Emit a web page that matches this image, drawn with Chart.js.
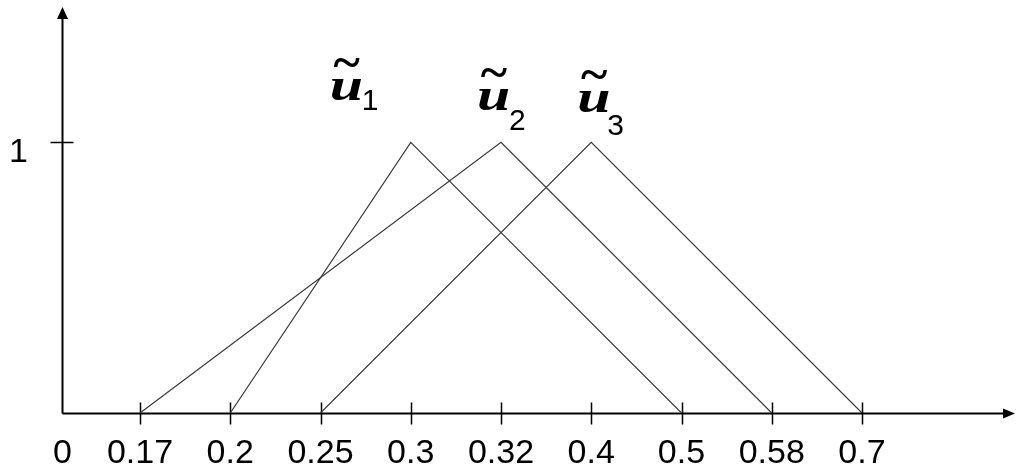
<!DOCTYPE html>
<html>
<head>
<meta charset="utf-8">
<script src="https://cdn.jsdelivr.net/npm/chart.js@4/dist/chart.umd.min.js"></script>
<style>
  html, body { margin: 0; padding: 0; background: #fff; }
  canvas { display: block; }
</style>
</head>
<body>
<canvas id="chart" width="1018" height="470"></canvas>
<script>
// Support values marked on the horizontal axis (shown at equal spacing)
const tickValues = [0, 0.17, 0.2, 0.25, 0.3, 0.32, 0.4, 0.5, 0.58, 0.7];
const tickLabels = ['0', '0.17', '0.2', '0.25', '0.3', '0.32', '0.4', '0.5', '0.58', '0.7'];

// Membership grade ticks on the vertical axis
const yTickValues = [1];
const yTickLabels = ['1'];

// Triangular fuzzy numbers (lower, modal, upper)
const u1 = [0.2, 0.3, 0.5];
const u2 = [0.17, 0.32, 0.58];
const u3 = [0.25, 0.4, 0.7];
const membership = [0, 1, 0];

// Subscripts of the series names
const seriesSubscripts = ['1', '2', '3'];

// ---- layout of the schematic axis ----
const X_MIN = 0.1357;   // origin sits a little closer to the first tick
const X_MAX = 10.6953;
const Y_MAX = 1.5;

const indexOf = v => tickValues.indexOf(v);
const toPoints = tri => tri.map((v, k) => ({ x: indexOf(v), y: membership[k] }));

// Axes with arrow heads, tick marks and tick labels
const arrowAxes = {
  id: 'arrowAxes',
  beforeDatasetsDraw(chart) {
    const { ctx, chartArea: a, scales: { x, y } } = chart;
    const x0 = a.left + 0.5;
    const y0 = Math.round(y.getPixelForValue(0)) + 0.5;
    ctx.save();
    ctx.strokeStyle = '#000';
    ctx.fillStyle = '#000';
    ctx.lineWidth = 2;

    ctx.beginPath();
    ctx.moveTo(x0, y0);
    ctx.lineTo(x0, a.top + 8);
    ctx.moveTo(x0, y0);
    ctx.lineTo(a.right - 8, y0);
    ctx.stroke();

    ctx.beginPath();
    ctx.moveTo(x0, a.top);
    ctx.lineTo(x0 - 5.5, a.top + 12);
    ctx.lineTo(x0 + 5.5, a.top + 12);
    ctx.closePath();
    ctx.fill();

    ctx.beginPath();
    ctx.moveTo(a.right, y0);
    ctx.lineTo(a.right - 12, y0 - 5);
    ctx.lineTo(a.right - 12, y0 + 5);
    ctx.closePath();
    ctx.fill();

    // tick marks
    ctx.lineWidth = 1.5;
    ctx.beginPath();
    for (let i = 1; i < tickValues.length; i++) {
      const px = Math.round(x.getPixelForValue(i)) + 0.5;
      ctx.moveTo(px, y0 - 11);
      ctx.lineTo(px, y0 + 11);
    }
    yTickValues.forEach(v => {
      const py = Math.round(y.getPixelForValue(v)) + 0.5;
      ctx.moveTo(x0 - 12, py);
      ctx.lineTo(x0 + 11, py);
    });
    ctx.stroke();

    // tick labels
    ctx.font = '34px "Liberation Sans", Arial, sans-serif';
    ctx.textAlign = 'center';
    ctx.textBaseline = 'alphabetic';
    tickLabels.forEach((t, i) => {
      const px = i === 0 ? x0 : x.getPixelForValue(i);
      ctx.fillText(t, px, y0 + 49);
    });
    yTickValues.forEach((v, i) => {
      ctx.fillText(yTickLabels[i], x0 - 44, y.getPixelForValue(v) + 20);
    });
    ctx.restore();
  }
};

// Series names (u with tilde and subscript) placed near each peak
const nameOffsets = [
  { dx: -81, dy: -42, subDx: 32, subDy: 10 },
  { dx: -24, dy: -32, subDx: 32, subDy: 20 },
  { dx: -14, dy: -30, subDx: 30, subDy: 23 }
];
const seriesNames = {
  id: 'seriesNames',
  afterDatasetsDraw(chart) {
    const { ctx, scales: { x, y } } = chart;
    ctx.save();
    ctx.fillStyle = '#000';
    ctx.textBaseline = 'alphabetic';
    [u1, u2, u3].forEach((tri, i) => {
      const o = nameOffsets[i];
      const left = x.getPixelForValue(indexOf(tri[1])) + o.dx;
      const base = y.getPixelForValue(1) + o.dy;

      ctx.save();
      ctx.translate(left, base);
      ctx.scale(1.3, 1);
      ctx.textAlign = 'left';
      ctx.font = 'italic bold 46px "Liberation Serif", "Times New Roman", serif';
      ctx.fillText('u', 0, 0);
      ctx.restore();

      ctx.save();
      ctx.translate(left + 17, base - 22);
      ctx.scale(1.15, 1.1);
      ctx.textAlign = 'center';
      ctx.font = 'bold 44px "Liberation Serif", "Times New Roman", serif';
      ctx.fillText('~', 0, 0);
      ctx.restore();

      ctx.textAlign = 'left';
      ctx.font = '30px "Liberation Sans", Arial, sans-serif';
      ctx.fillText(seriesSubscripts[i], left + o.subDx, base + o.subDy);
    });
    ctx.restore();
  }
};

new Chart(document.getElementById('chart'), {
  type: 'line',
  data: {
    datasets: [u1, u2, u3].map(tri => ({
      data: toPoints(tri),
      borderColor: '#3a3a3a',
      borderWidth: 1.2,
      pointRadius: 0,
      fill: false,
      tension: 0
    }))
  },
  options: {
    responsive: false,
    animation: false,
    devicePixelRatio: 1,
    layout: { padding: { left: 62, right: 3, top: 7, bottom: 57 } },
    scales: {
      x: { type: 'linear', display: false, min: X_MIN, max: X_MAX },
      y: { type: 'linear', display: false, min: 0, max: Y_MAX }
    },
    plugins: { legend: { display: false }, tooltip: { enabled: false } }
  },
  plugins: [arrowAxes, seriesNames]
});
</script>
</body>
</html>
